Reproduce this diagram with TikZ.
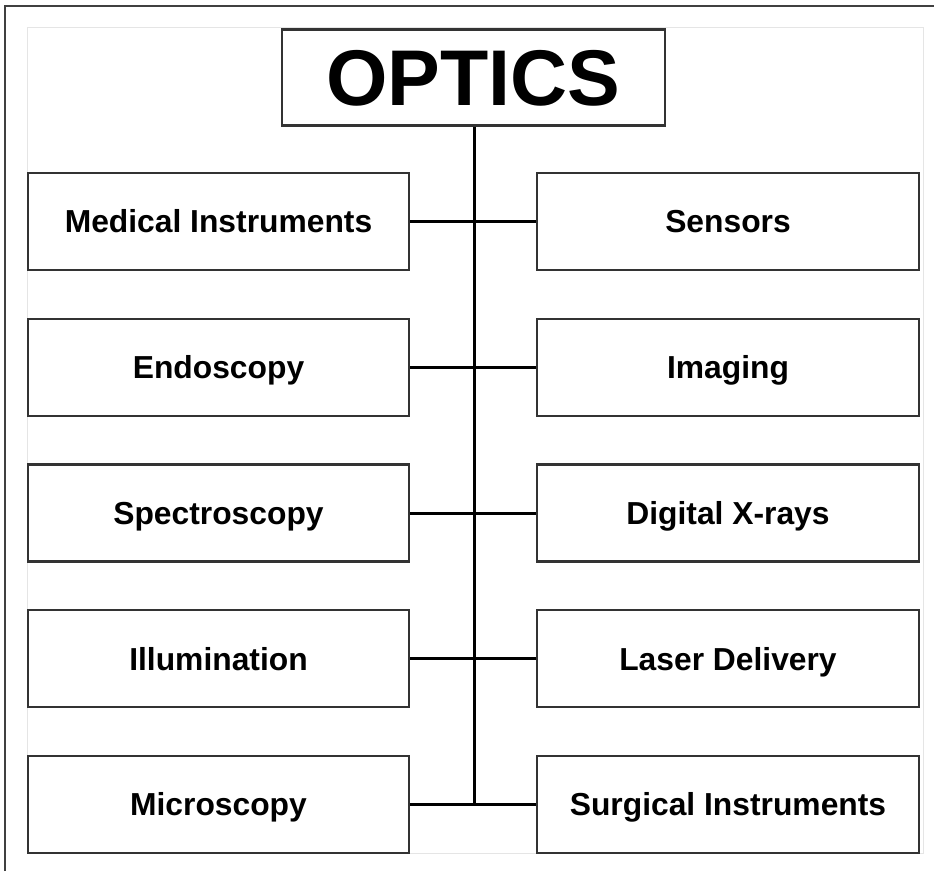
\documentclass[tikz,border=0pt]{standalone}
\usepackage{fontspec}
\setmainfont{Liberation Sans}
\begin{document}
\begin{tikzpicture}[x=1pt,y=-1pt,
  box/.style={draw=black!80, line width=2.2pt, fill=white, minimum height=97pt, inner sep=0pt,
    text height=22.8pt, text depth=0pt,
    font=\fontsize{31.8}{36}\selectfont\bfseries},
  lbox/.style={box, minimum width=381pt},
  rbox/.style={box, minimum width=382pt},
  conn/.style={draw=black, line width=3pt}]
\useasboundingbox (0,0) rectangle (934,871);
\fill[white] (0,0) rectangle (934,871);
% frame
\draw[black!75, line width=1.8pt] (4.6,871) -- (4.6,5.6) -- (934,5.6);
\draw[black!10, line width=1pt] (27,27) rectangle (923,853);
% title
\node[draw=black!80, line width=2.2pt, fill=white, minimum width=383pt, minimum height=96pt, inner sep=0pt,
  text height=56.6pt, text depth=0pt,
  font=\fontsize{79}{80}\selectfont\bfseries] (top) at (473.5,77.5) {OPTICS};
% rows
\foreach \i/\lt/\rt in {1/Medical Instruments/Sensors,2/Endoscopy/Imaging,3/Spectroscopy/Digital X-rays,4/Illumination/Laser Delivery,5/Microscopy/Surgical Instruments}{
  \node[lbox] (L\i) at (218.5,{221.5+145.75*(\i-1)}) {\lt};
  \node[rbox] (R\i) at (728,{221.5+145.75*(\i-1)}) {\rt};
}
\coordinate (s5) at (474,804);
\draw[conn] (top.south -| s5) -- (s5);
\foreach \i in {1,...,5}{
  \draw[conn] (L\i.east) -- (R\i.west);
}
\end{tikzpicture}
\end{document}
